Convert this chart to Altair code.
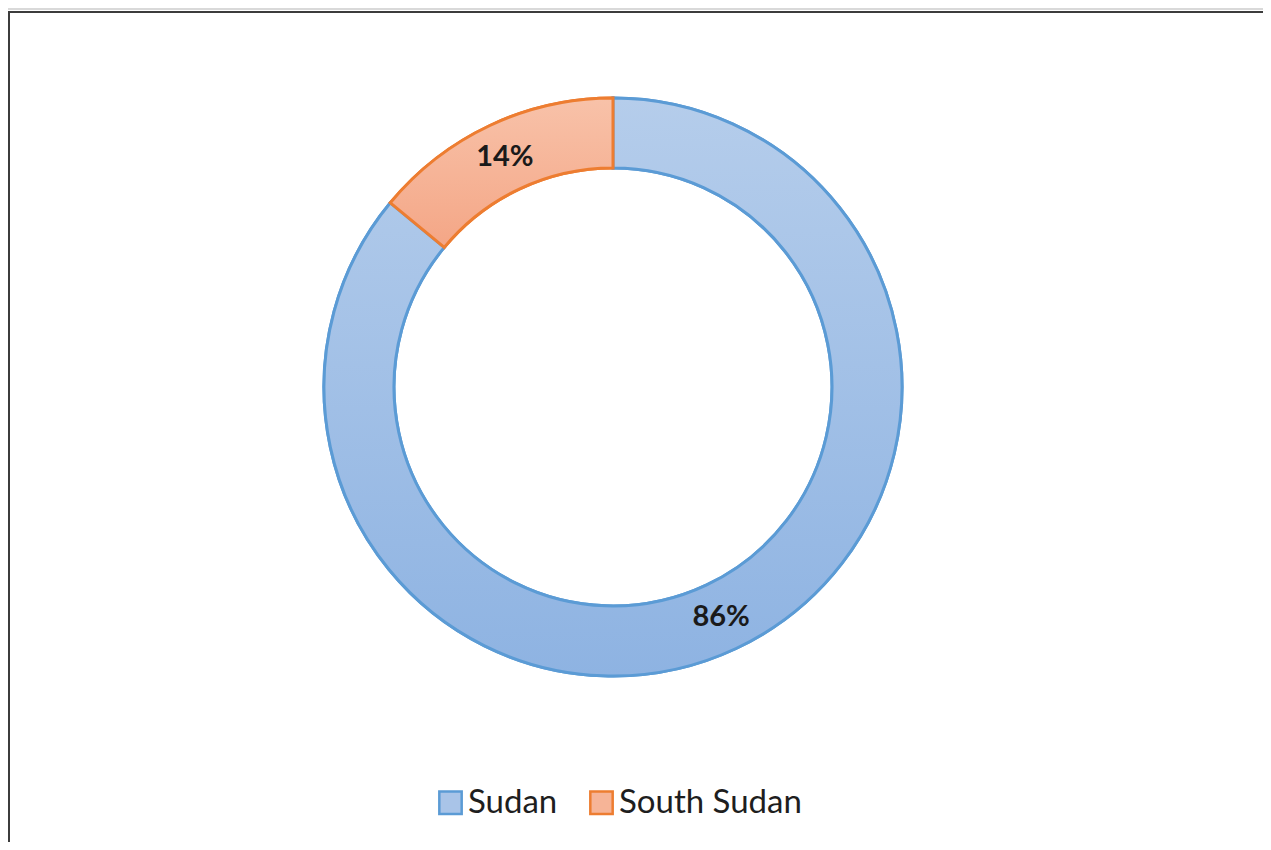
import altair as alt
import pandas as pd

countries = ["Sudan", "South Sudan"]
shares = [86, 14]
labels = ["86%", "14%"]
order_idx = [0, 1]
fill_colors = ["#A9C4E8", "#F6B497"]
stroke_colors = ["#5B9BD5", "#ED7D31"]

df = pd.DataFrame({"country": countries, "share": shares, "label": labels, "idx": order_idx})
frame_df = pd.DataFrame({"k": [0]})

W, H = 1255, 834
CX, CY = 605, 379

grad_blue = {"gradient": "linear", "x1": 0, "y1": 0, "x2": 0, "y2": 1,
             "stops": [{"offset": 0, "color": "#B5CDEB"}, {"offset": 1, "color": "#8EB3E2"}]}
grad_orange = {"gradient": "linear", "x1": 0, "y1": 0, "x2": 0, "y2": 1,
               "stops": [{"offset": 0, "color": "#F8C2A9"}, {"offset": 1, "color": "#F4A686"}]}

theta = alt.Theta("share:Q", stack=True)
order = alt.Order("idx:Q")

legend = alt.Legend(title=None, orient="none", legendX=426, legendY=778, direction="horizontal")

base = alt.Chart(df)

arcs = base.mark_arc(outerRadius=289, innerRadius=219, strokeWidth=3, x=CX, y=CY).encode(
    theta=theta,
    order=order,
    fill=alt.Fill("country:N", scale=alt.Scale(domain=countries, range=fill_colors), legend=legend),
    stroke=alt.Stroke("country:N", scale=alt.Scale(domain=countries, range=stroke_colors), legend=legend),
)

grad_arcs = base.mark_arc(outerRadius=289, innerRadius=219, strokeWidth=3, x=CX, y=CY).encode(
    theta=theta,
    order=order,
    fill=alt.condition("datum.country === 'Sudan'", alt.value(grad_blue), alt.value(grad_orange)),
    stroke=alt.condition("datum.country === 'Sudan'", alt.value(stroke_colors[0]), alt.value(stroke_colors[1])),
)

texts = base.mark_text(radius=254, font="Lato", fontSize=29, fontWeight="bold", color="#1a1a1a",
                       x=CX, y=CY).encode(
    theta=theta,
    order=order,
    text="label:N",
)

frame = alt.Chart(frame_df)
gray_band = frame.mark_rule(color="#d9d9d9", strokeWidth=2).encode(
    x=alt.value(0), x2=alt.value(W), y=alt.value(1))
top_line = frame.mark_rule(color="#3c3c3c", strokeWidth=2).encode(
    x=alt.value(0), x2=alt.value(W), y=alt.value(4))
left_line = frame.mark_rule(color="#3c3c3c", strokeWidth=2).encode(
    x=alt.value(1), y=alt.value(3), y2=alt.value(H))

chart = alt.layer(arcs, grad_arcs, texts, gray_band, top_line, left_line).properties(
    width=W, height=H,
    autosize=alt.AutoSizeParams(type="none"),
    padding=0,
    background="white",
).configure_view(stroke=None).configure_legend(
    symbolType="square",
    symbolSize=500,
    symbolStrokeWidth=2.5,
    labelFont="Lato",
    labelFontSize=33,
    labelColor="#1e1e1e",
    labelOffset=1,
    columnPadding=27,
    padding=0,
    labelLimit=400,
)

chart.save("out.html", embed_options={"renderer": "svg", "actions": False})
